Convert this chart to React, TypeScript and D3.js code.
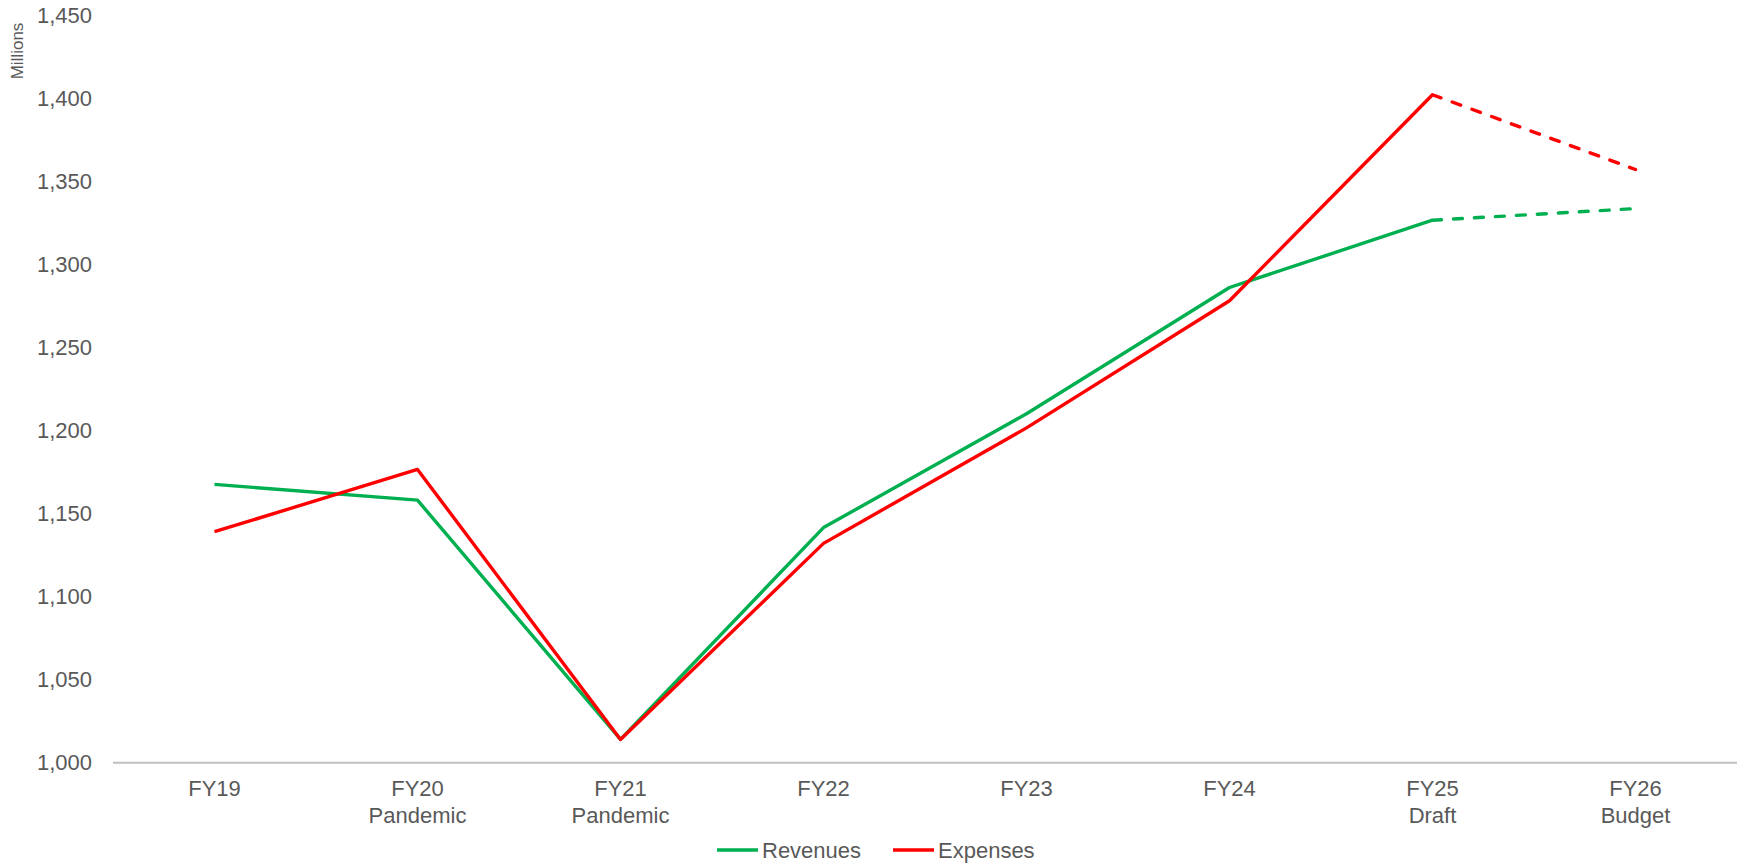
import * as d3 from 'd3';

const categories = ['FY19', 'FY20', 'FY21', 'FY22', 'FY23', 'FY24', 'FY25', 'FY26'];
const subLabels = ['', 'Pandemic', 'Pandemic', '', '', '', 'Draft', 'Budget'];
const revenues = [1167.5, 1158, 1014, 1141.5, 1210, 1286, 1326.5, 1333.5];
const expenses = [1139, 1176.5, 1014, 1132, 1201.5, 1278, 1402, 1357];
const yTicks = [1000, 1050, 1100, 1150, 1200, 1250, 1300, 1350, 1400, 1450];
// the last segment (draft -> budget) is drawn dashed
const dashedFrom = 6;

const W = 1737;
const H = 864;
const TEXT = '#595959';
const FONT = 'Arial, "Liberation Sans", sans-serif';

const series = [
  { name: 'Revenues', values: revenues, color: '#00B050' },
  { name: 'Expenses', values: expenses, color: '#FF0000' },
];

const App = () => {
  const x = d3.scaleBand<string>().domain(categories).range([113, W]);
  const y = d3.scaleLinear().domain([1000, 1450]).range([762.7, 15]);
  const fmt = d3.format(',');

  const line = d3.line<[string, number]>()
    .x(d => (x(d[0]) ?? 0) + x.bandwidth() / 2)
    .y(d => y(d[1]));

  const pairs = (vals: number[]) => categories.map((c, i) => [c, vals[i]] as [string, number]);

  return (
    <div style={{ position: 'absolute', left: 0, top: 0 }}>
      <svg width={W} height={H} style={{ display: 'block', fontFamily: FONT }}>
        <rect width={W} height={H} fill="#fff" />
        {yTicks.map(t => (
          <text key={t} x={92} y={y(t)} textAnchor="end" dominantBaseline="central"
            fontSize={22} fill={TEXT}>{fmt(t)}</text>
        ))}
        <text transform="translate(17,51) rotate(-90)" textAnchor="middle" dominantBaseline="central"
          fontSize={17} fill={TEXT}>Millions</text>
        <line x1={113} x2={W} y1={y(1000)} y2={y(1000)} stroke="#BFBFBF" strokeWidth={2} />
        {categories.map((c, i) => {
          const cx = (x(c) ?? 0) + x.bandwidth() / 2;
          return (
            <g key={c}>
              <text x={cx} y={788} textAnchor="middle" dominantBaseline="central" fontSize={22} fill={TEXT}>{c}</text>
              {subLabels[i] && (
                <text x={cx} y={815} textAnchor="middle" dominantBaseline="central" fontSize={22} fill={TEXT}>{subLabels[i]}</text>
              )}
            </g>
          );
        })}
        {series.map(s => {
          const p = pairs(s.values);
          return (
            <g key={s.name}>
              <path d={line(p.slice(0, dashedFrom + 1)) ?? ''} fill="none" stroke={s.color}
                strokeWidth={3.4} strokeLinejoin="round" />
              <path d={line(p.slice(dashedFrom)) ?? ''} fill="none" stroke={s.color}
                strokeWidth={3.4} strokeDasharray="9,12" strokeLinecap="round" />
            </g>
          );
        })}
        {series.map((s, i) => {
          const lx = 717 + i * 176;
          return (
            <g key={s.name}>
              <line x1={lx} x2={lx + 41} y1={850} y2={850} stroke={s.color} strokeWidth={3.4} />
              <text x={lx + 45} y={850} dominantBaseline="central" fontSize={22} fill={TEXT}>{s.name}</text>
            </g>
          );
        })}
      </svg>
    </div>
  );
};

export default App;
